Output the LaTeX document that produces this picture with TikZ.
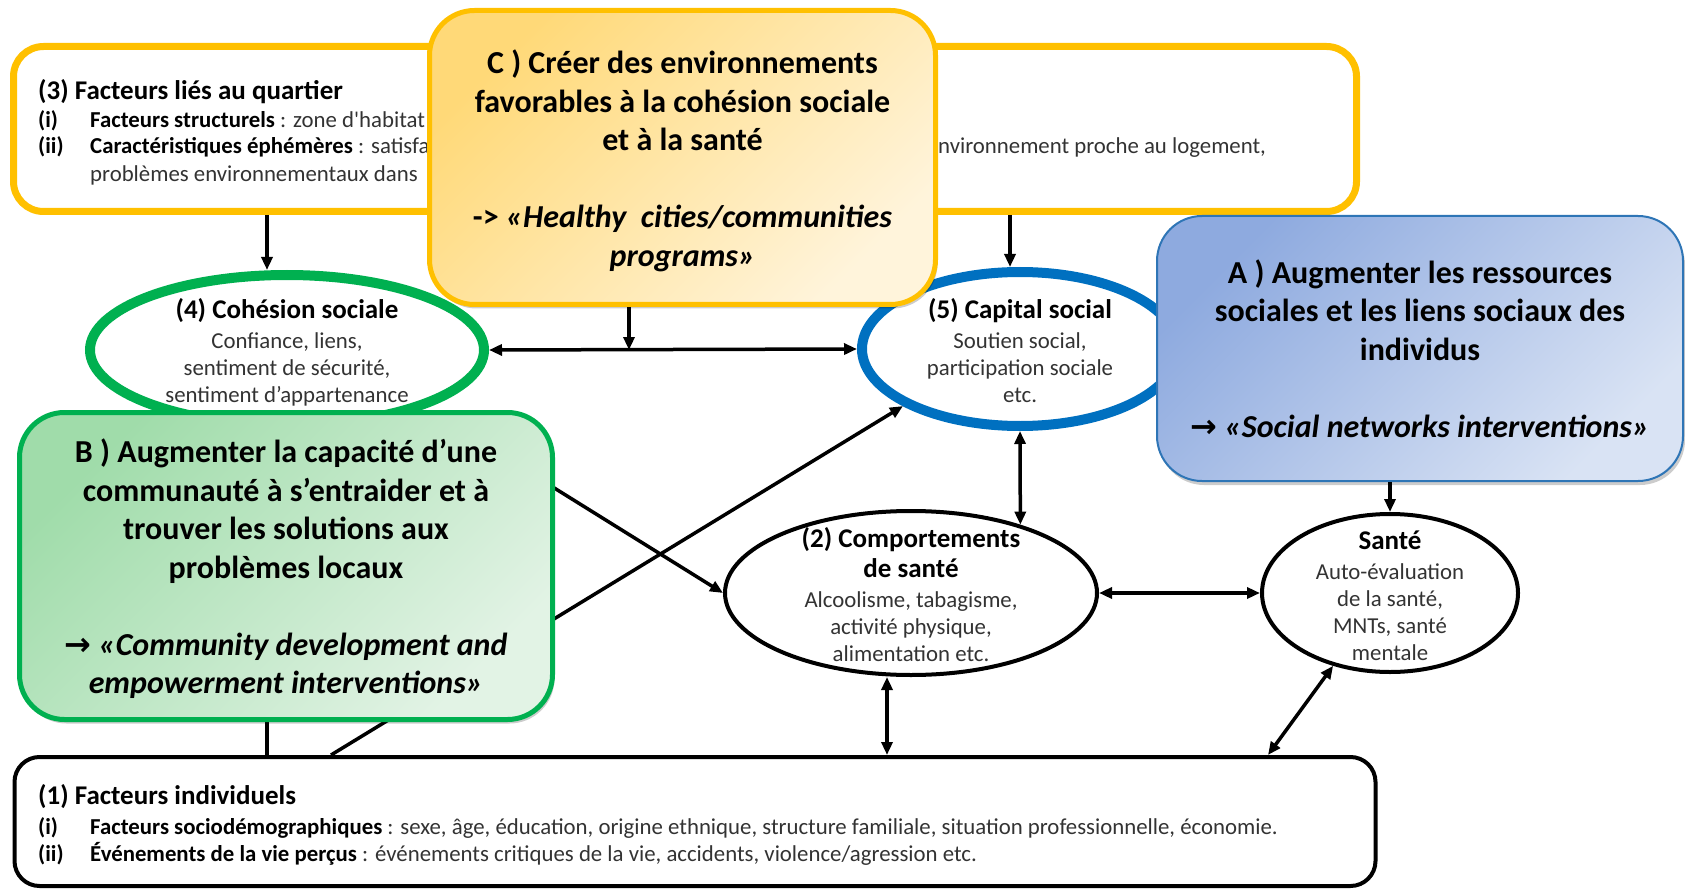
\documentclass[tikz,border=0pt]{standalone}
\usepackage{fontspec}
\setmainfont{Carlito}
\newfontfamily\symfont{DejaVu Sans}
\usetikzlibrary{shapes.geometric,arrows.meta,shadows}

\definecolor{gold}{HTML}{FFC000}
\definecolor{leaf}{HTML}{00B050}
\definecolor{sea}{HTML}{0070C0}
\definecolor{seaframe}{HTML}{2E75B6}
\definecolor{goldtop}{HTML}{FFD978}
\definecolor{goldbot}{HTML}{FFF4DB}
\definecolor{leaftop}{HTML}{A0DCAA}
\definecolor{leafbot}{HTML}{E2F3E5}
\definecolor{seatop}{HTML}{8EAADF}
\definecolor{seabot}{HTML}{D9E3F4}
\definecolor{ink}{HTML}{333333}

\newcommand{\bigtxt}{\fontsize{32}{38.5}\selectfont\bfseries}
\newcommand{\headtxt}{\fontsize{27}{32}\selectfont}
\newcommand{\smalltxt}{\fontsize{22.8}{27}\selectfont}
\newcommand{\bfink}[1]{\textbf{\color{black}#1}}
\newcommand{\lbl}[1]{\makebox[52pt][l]{\bfink{#1}}}

\tikzset{
  panel/.style={rectangle,rounded corners=#1,inner sep=0pt,align=center},
  oval/.style={ellipse,inner sep=0pt,fill=white},
  row/.style={anchor=base west,inner sep=0pt,font=\smalltxt,text=ink},
  inside/.style={inner sep=0pt,align=center,font=\smalltxt,text=ink},
  link/.style={line width=3.5pt},
  soft/.style={drop shadow={shadow xshift=2pt,shadow yshift=-4pt,opacity=.2,fill=black}}
}

\begin{document}
\begin{tikzpicture}[x=1pt,y=-1pt,>={Triangle[length=13pt,width=11pt]}]
\useasboundingbox (0,0) rectangle (1685,890);
\coordinate (colA) at (267,0);
\coordinate (colB) at (1010,0);
\coordinate (colC) at (629,0);
\coordinate (colD) at (887,0);
\coordinate (colE) at (331,0);
\coordinate (colF) at (1268,0);
\coordinate (cohlow) at (445,420);

% (3) facteurs du quartier
\node[panel=30pt,draw=gold,fill=white,line width=7pt,minimum width=1343pt,minimum height=165pt] (quart) at (685,129) {};
\node[row,text=black,font=\headtxt\bfseries] (quarthead) at (38,100) {(3) Facteurs liés au quartier};
\node[row] (quarti) at (38,128) {\lbl{(i)}\bfink{Facteurs structurels} : zone d\textquotesingle habitat};
\node[row] (quartii) at (38,154) {\lbl{(ii)}\bfink{Caractéristiques éphémères} : satisfa};
\node[row] (quartiii) at (90,182) {problèmes environnementaux dans};
\node[row] (quartright) at (938,154) {\llap{e}nvironnement proche au logement,};

% (1) facteurs individuels
\node[panel=25pt,draw=black,fill=white,line width=4pt,minimum width=1361pt,minimum height=129pt] (indiv) at (695,821.5) {};
\node[row,text=black,font=\headtxt\bfseries] (indivhead) at (38,804) {(1) Facteurs individuels};
\node[row] (indivi) at (38,834) {\lbl{(i)}\bfink{Facteurs sociodémographiques} : sexe, âge, éducation, origine ethnique, structure familiale, situation professionnelle, économie.};
\node[row] (indivii) at (38,861) {\lbl{(ii)}\bfink{Événements de la vie perçus} : événements critiques de la vie, accidents, violence/agression etc.};

% ellipses
\node[oval,draw=leaf,line width=10pt,minimum width=394pt,minimum height=150pt] (coh) at (287,350) {};
\node[inside] (cohtxt) at (287,352) {{\headtxt\bfseries\color{black}(4) Cohésion sociale}\\[3pt]Confiance, liens,\\sentiment de sécurité,\\sentiment d’appartenance};
\node[oval,draw=sea,line width=10pt,minimum width=316pt,minimum height=154pt] (cap) at (1020,349) {};
\node[inside] (captxt) at (1020,351) {{\headtxt\bfseries\color{black}(5) Capital social}\\[3pt]Soutien social,\\participation sociale\\etc.};
\node[oval,draw=black,line width=4pt,minimum width=372pt,minimum height=164pt] (comp) at (911,593) {};
\node[inside] (comptxt) at (911,595) {{\headtxt\bfseries\color{black}(2) Comportements}\\[3pt]{\headtxt\bfseries\color{black}de santé}\\[3pt]Alcoolisme, tabagisme,\\activité physique,\\alimentation etc.};
\node[oval,draw=black,line width=4pt,minimum width=256pt,minimum height=158pt] (sante) at (1390,593) {};
\node[inside] (santetxt) at (1390,596) {{\headtxt\bfseries\color{black}Santé}\\[3pt]Auto-évaluation\\de la santé,\\MNTs, santé\\mentale};

% liens
\draw[link,->] (quart.south -| colA) -- (coh.north -| colA);
\draw[link,->] (quart.south -| colB) -- (cap.north -| colB);
\draw[link,<->] (coh.east) -- (cap.west);
\draw[link,<->] (cap.south) -- (comp.32);
\draw[link,->] (cohlow) -- (comp.west);
\draw[link,->] (indiv.north -| colE) -- (cap.-154);
\draw[link,->] (indiv.north -| colA) -- (coh.south -| colA);
\draw[link,<->] (comp.south -| colD) -- (indiv.north -| colD);
\draw[link,<->] (comp.east) -- (sante.west);
\draw[link,<->] (sante.-128) -- (indiv.north -| colF);

% interventions
\node[panel=45pt,draw=leaf,line width=5pt,top color=leaftop,bottom color=leafbot,shading angle=45,soft,minimum width=533pt,minimum height=307pt,font=\bigtxt] (boxB) at (286,566)
  {\rule{0pt}{30pt}B ) Augmenter la capacité d’une\\communauté à s’entraider et à\\trouver les solutions aux\\problèmes locaux\\[38.5pt]{\symfont→}~\textit{«Community development and}\\\textit{empowerment interventions»}};
\node[panel=45pt,draw=gold,line width=5pt,top color=goldtop,bottom color=goldbot,shading angle=45,soft,minimum width=506pt,minimum height=294pt,font=\bigtxt] (boxC) at (682.5,157.5)
  {\rule{0pt}{30pt}C ) Créer des environnements\\favorables à la cohésion sociale\\et à la santé\\[38.5pt]->~\textit{«Healthy\ \ cities/communities}\\\textit{programs»}};
\node[panel=45pt,draw=seaframe,line width=2pt,top color=seatop,bottom color=seabot,shading angle=45,soft,minimum width=526pt,minimum height=265pt,font=\bigtxt] (boxA) at (1420,348.5)
  {A ) Augmenter les ressources\\sociales et les liens sociaux des\\individus\\[38.5pt]{\symfont→}~\textit{«Social networks interventions»}};

\draw[link,->] (boxC.south -| colC) -- (colC |- coh.east);
\draw[link,->] (boxA.south -| sante.north) -- (sante.north);
\end{tikzpicture}
\end{document}
